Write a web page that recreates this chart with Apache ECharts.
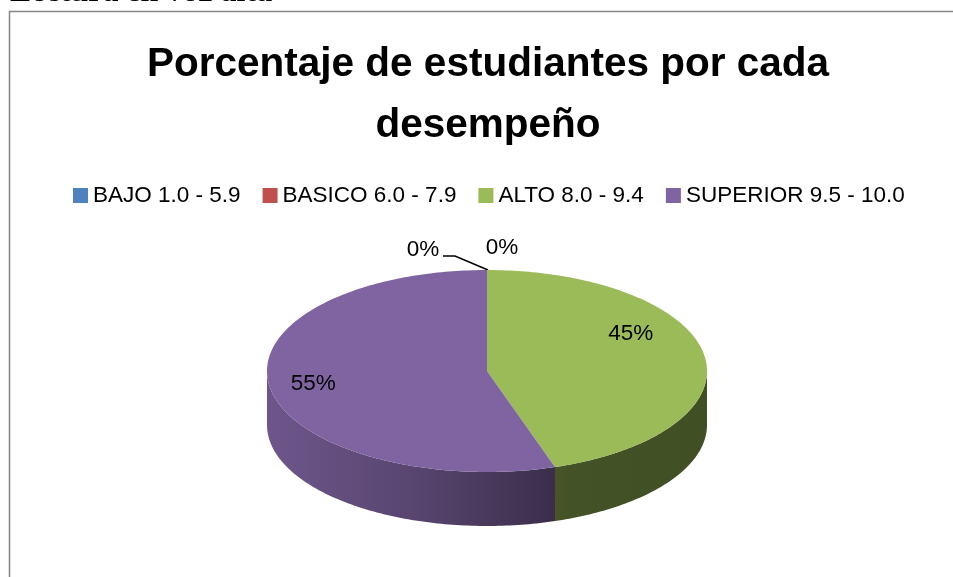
<!DOCTYPE html>
<html>
<head>
<meta charset="utf-8">
<script src="https://cdn.jsdelivr.net/npm/echarts@6/dist/echarts.min.js"></script>
<style>
  html, body { margin: 0; padding: 0; background: #fff; }
  #pie-desempeno { width: 953px; height: 577px; }
</style>
</head>
<body>
<div id="pie-desempeno"></div>
<script>
const categories = ['BAJO 1.0 - 5.9', 'BASICO 6.0 - 7.9', 'ALTO 8.0 - 9.4', 'SUPERIOR 9.5 - 10.0'];
const percentages = [0, 0, 45, 55];
const sliceColors = ['#4F81BD', '#C0504D', '#9BBB59', '#8064A2'];
const chartTitle = 'Porcentaje de estudiantes por cada\ndesempeño';

// pie geometry (3d look, excel style)
const cx = 487, cy = 371, rx = 220, ry = 101, depth = 54;
const labelNudge = { 2: [-30, -25] };

function shade(hex, f) {
  const n = parseInt(hex.slice(1), 16);
  const r = Math.round(((n >> 16) & 255) * f);
  const g = Math.round(((n >> 8) & 255) * f);
  const b = Math.round((n & 255) * f);
  return 'rgb(' + r + ',' + g + ',' + b + ')';
}

function pt(deg, dy) {
  const a = deg * Math.PI / 180;
  return [cx + rx * Math.sin(a), cy - ry * Math.cos(a) + (dy || 0)];
}

function arc(from, to, dy) {
  const pts = [];
  const steps = Math.max(2, Math.ceil(to - from));
  for (let s = 0; s <= steps; s++) {
    pts.push(pt(from + (to - from) * s / steps, dy));
  }
  return pts;
}

function renderSlice(idx) {
  return function (params, api) {
    const value = api.value(0);
    const total = percentages.reduce((a, b) => a + b, 0);
    let before = 0;
    for (let k = 0; k < idx; k++) before += percentages[k];
    const a0 = before / total * 360;
    const a1 = (before + value) / total * 360;
    const color = sliceColors[idx];
    const children = [];
    const pctText = Math.round(value / total * 100) + '%';
    const labelFont = '22.5px "Liberation Sans"';

    if (value > 0) {
      // front wall
      const s0 = Math.max(a0, 90), s1 = Math.min(a1, 270);
      if (s1 > s0) {
        const top = arc(s0, s1, 0);
        const bottom = arc(s0, s1, depth).reverse();
        children.push({
          type: 'polygon',
          shape: { points: top.concat(bottom) },
          style: {
            fill: new echarts.graphic.LinearGradient(cx - rx, 0, cx + rx, 0, [
              { offset: 0, color: shade(color, 0.86) },
              { offset: 0.35, color: shade(color, 0.68) },
              { offset: 0.68, color: shade(color, 0.44) },
              { offset: 1, color: shade(color, 0.42) }
            ], true)
          }
        });
      }
      // top face
      children.push({
        type: 'polygon',
        shape: { points: [[cx, cy]].concat(arc(a0, a1, 0)) },
        style: { fill: color }
      });
      const mid = (a0 + a1) / 2;
      const a = mid * Math.PI / 180;
      const nudge = labelNudge[idx] || [0, 0];
      children.push({
        type: 'text',
        x: cx + rx * 0.8 * Math.sin(a) + nudge[0],
        y: cy - ry * 0.8 * Math.cos(a) + nudge[1],
        style: {
          text: pctText, fill: '#000', font: labelFont,
          align: 'center', verticalAlign: 'middle'
        }
      });
    } else {
      const p = pt(a0, 0);
      if (idx === 0) {
        children.push({
          type: 'polyline',
          shape: { points: [[p[0] + 1, p[1]], [p[0] - 32, p[1] - 14], [p[0] - 44, p[1] - 14]] },
          style: { stroke: '#000', lineWidth: 1.5, fill: null }
        });
        children.push({
          type: 'text', x: p[0] - 64, y: p[1] - 20,
          style: { text: pctText, fill: '#000', font: labelFont, align: 'center', verticalAlign: 'middle' }
        });
      } else {
        children.push({
          type: 'text', x: p[0] + 15, y: p[1] - 22,
          style: { text: pctText, fill: '#000', font: labelFont, align: 'center', verticalAlign: 'middle' }
        });
      }
    }
    return { type: 'group', children: children };
  };
}

const chartDom = document.getElementById('pie-desempeno');
const myChart = echarts.init(chartDom);

const option = {
  animation: false,
  backgroundColor: '#fff',
  legend: {
    data: categories,
    left: 68,
    top: 179,
    icon: 'rect',
    itemWidth: 15,
    itemHeight: 15,
    itemGap: 22,
    selectedMode: false,
    textStyle: { fontFamily: 'Liberation Sans', fontSize: 22.5, color: '#000' }
  },
  graphic: [
    {
      type: 'rect',
      shape: { x: 9.5, y: 11.5, width: 1200, height: 1000 },
      style: { fill: null, stroke: '#868686', lineWidth: 1.5 },
      silent: true
    },
    {
      type: 'text',
      x: -22,
      y: -7,
      style: {
        text: '1. Lectura en voz alta',
        font: 'bold 32px "Liberation Serif"',
        fill: '#000',
        verticalAlign: 'middle'
      }
    },
    {
      type: 'text',
      x: 488,
      y: 34,
      style: {
        text: chartTitle,
        font: 'bold 40.5px "Liberation Sans"',
        lineHeight: 61,
        fill: '#000',
        align: 'center',
        verticalAlign: 'top'
      }
    }
  ],
  series: categories.map(function (name, i) {
    return {
      type: 'custom',
      name: name,
      coordinateSystem: 'none',
      itemStyle: { color: sliceColors[i] },
      renderItem: renderSlice(i),
      data: [[percentages[i]]]
    };
  })
};

option && myChart.setOption(option);
window.addEventListener('resize', function () {
  myChart.resize();
});
</script>
</body>
</html>
